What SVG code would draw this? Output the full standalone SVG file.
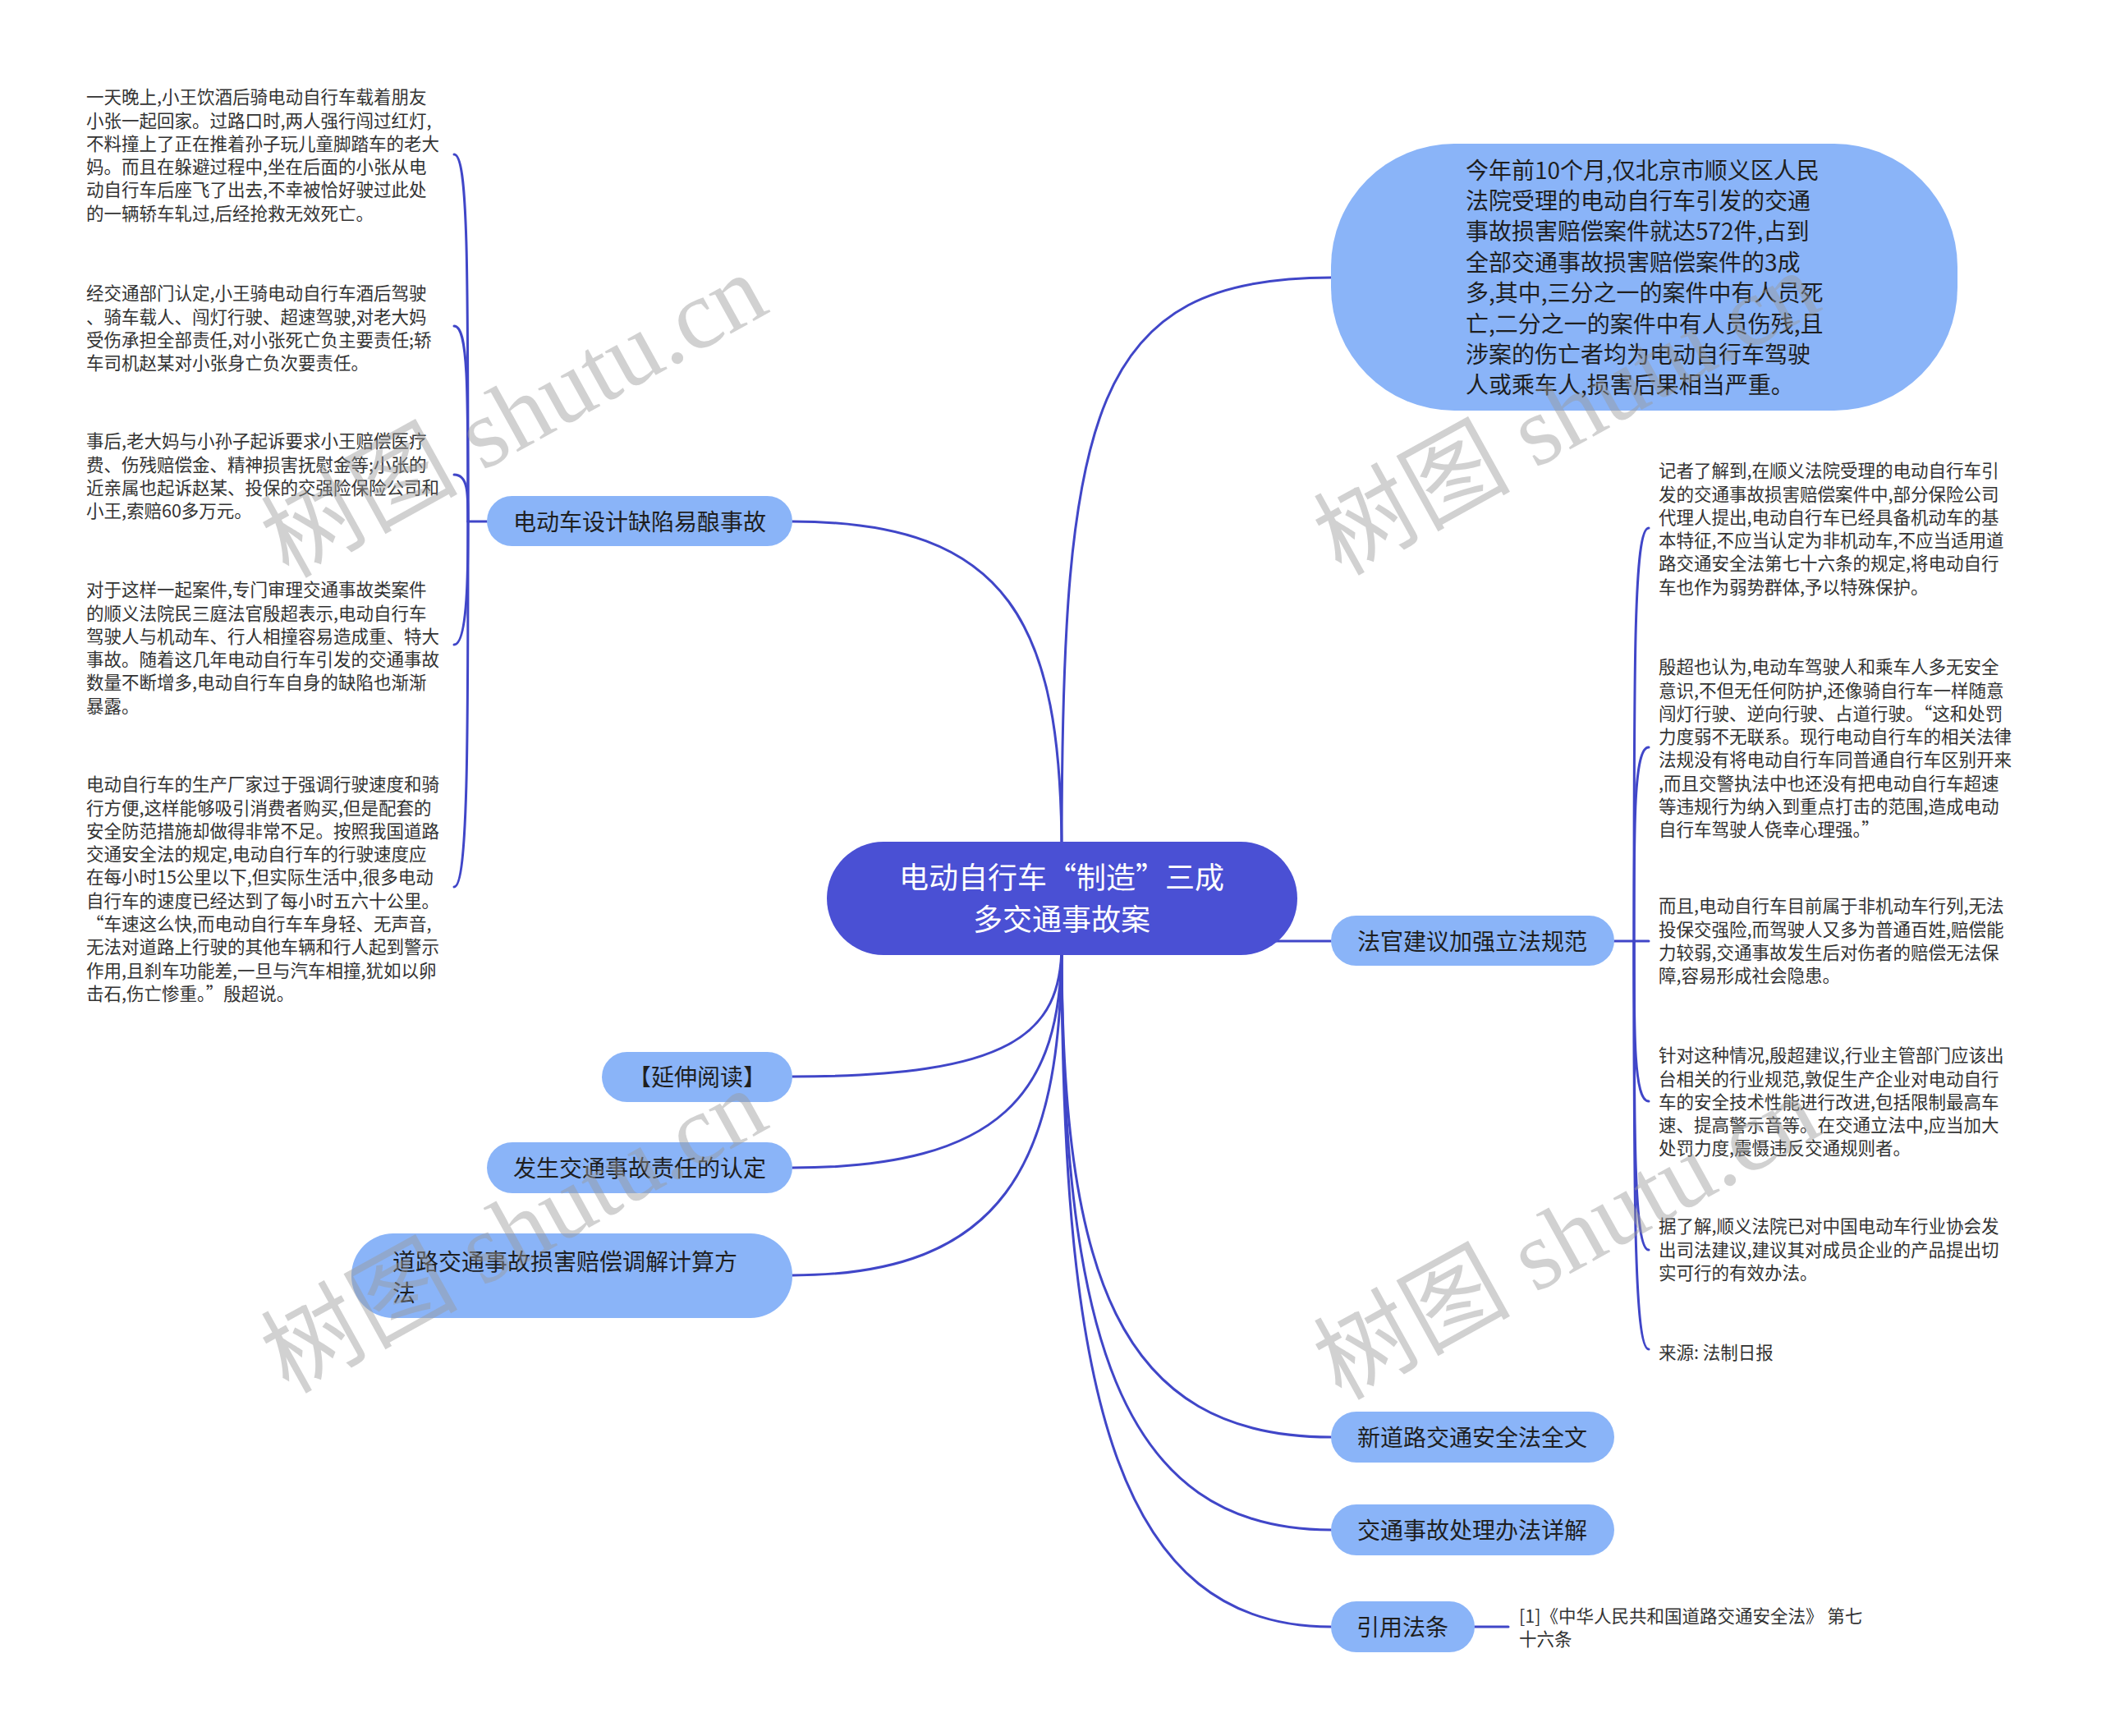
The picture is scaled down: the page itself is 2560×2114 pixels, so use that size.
<svg xmlns="http://www.w3.org/2000/svg" width="2560" height="2114" viewBox="0 0 2560 2114">
<style>
.conn{fill:none;stroke:#4046C8;stroke-width:3;stroke-linecap:round}
.n1{fill:#8AB4F8}
.root{fill:#4A50D4}
.t1{font-family:"Noto Sans CJK SC","Liberation Sans",sans-serif;font-size:28px;fill:#1f1f1f}
.tr{font-family:"Noto Sans CJK SC","Liberation Sans",sans-serif;font-size:36px;fill:#ffffff}
.leaf{font-family:"Noto Sans CJK SC","Liberation Sans",sans-serif;font-size:21.5px;fill:#333333}
.wm{font-family:"Liberation Serif","Noto Sans CJK SC",serif;font-size:120px;fill:#9a9a9a;opacity:0.45}
</style>
<rect width="2560" height="2114" fill="#ffffff"/>
<g id="connectors">
<path class="conn" d="M1293 1040 C1293 500,1330 338,1621 338"/>
<path class="conn" d="M1293 1040 C1293 760,1230 635,965 635"/>
<path class="conn" d="M1293 1094 C1293 1146,1400 1146,1621 1146"/>
<path class="conn" d="M1293 1150 C1293 1260,1230 1311,965 1311"/>
<path class="conn" d="M1293 1150 C1293 1330,1220 1422,965 1422"/>
<path class="conn" d="M1293 1150 C1293 1420,1220 1553,965 1553"/>
<path class="conn" d="M1293 1150 C1293 1550,1360 1750,1621 1750"/>
<path class="conn" d="M1293 1150 C1293 1620,1360 1863,1621 1863"/>
<path class="conn" d="M1293 1150 C1293 1700,1360 1981,1621 1981"/>
<path class="conn" d="M593 635 H570"/>
<path class="conn" d="M570 635 C570 322,570 188,553 188"/>
<path class="conn" d="M570 635 C570 470,570 397,553 397"/>
<path class="conn" d="M570 635 C570 600,570 578,553 578"/>
<path class="conn" d="M570 635 C570 690,570 785,553 785"/>
<path class="conn" d="M570 635 C570 900,570 1080,553 1080"/>
<path class="conn" d="M1966 1146 H2008"/>
<path class="conn" d="M1990 1146 C1990 800,1990 643,2008 643"/>
<path class="conn" d="M1990 1146 C1990 1000,1990 910,2008 910"/>
<path class="conn" d="M1990 1146 C1990 1260,1990 1341,2008 1341"/>
<path class="conn" d="M1990 1146 C1990 1380,1990 1522,2008 1522"/>
<path class="conn" d="M1990 1146 C1990 1450,1990 1643,2008 1643"/>
<path class="conn" d="M1796 1981 H1837"/>
</g>
<g id="node-root">
<rect class="root" x="1007" y="1025" width="573" height="138" rx="69"/>
<text class="tr" x="1293" y="1082" text-anchor="middle">电动自行车“制造”三成</text>
<text class="tr" x="1293" y="1133" text-anchor="middle">多交通事故案</text>
</g>
<g id="node-summary">
<rect class="n1" x="1621" y="175" width="763" height="325" rx="150"/>
<text class="t1" x="1785" y="217.6"><tspan x="1785">今年前10个月,仅北京市顺义区人民</tspan><tspan x="1785" dy="37.4">法院受理的电动自行车引发的交通</tspan><tspan x="1785" dy="37.4">事故损害赔偿案件就达572件,占到</tspan><tspan x="1785" dy="37.4">全部交通事故损害赔偿案件的3成</tspan><tspan x="1785" dy="37.4">多,其中,三分之一的案件中有人员死</tspan><tspan x="1785" dy="37.4">亡,二分之一的案件中有人员伤残,且</tspan><tspan x="1785" dy="37.4">涉案的伤亡者均为电动自行车驾驶</tspan><tspan x="1785" dy="37.4">人或乘车人,损害后果相当严重。</tspan></text>
</g>
<g id="node-design">
<rect class="n1" x="593" y="604" width="372" height="61" rx="30.5"/>
<text class="t1" x="779" y="645.6" text-anchor="middle">电动车设计缺陷易酿事故</text>
</g>
<g id="node-judge">
<rect class="n1" x="1621" y="1115" width="345" height="61" rx="30.5"/>
<text class="t1" x="1793" y="1156.6" text-anchor="middle">法官建议加强立法规范</text>
</g>
<g id="node-read">
<rect class="n1" x="733" y="1281" width="232" height="61" rx="30.5"/>
<text class="t1" x="849" y="1321.6" text-anchor="middle">【延伸阅读】</text>
</g>
<g id="node-resp">
<rect class="n1" x="593" y="1391" width="372" height="62" rx="31"/>
<text class="t1" x="779" y="1432.6" text-anchor="middle">发生交通事故责任的认定</text>
</g>
<g id="node-calc">
<rect class="n1" x="428" y="1502" width="537" height="103" rx="51"/>
<text class="t1" x="478" y="1546.6"><tspan x="478">道路交通事故损害赔偿调解计算方</tspan><tspan x="478" dy="38">法</tspan></text>
</g>
<g id="node-law">
<rect class="n1" x="1621" y="1719" width="345" height="62" rx="31"/>
<text class="t1" x="1793" y="1760.6" text-anchor="middle">新道路交通安全法全文</text>
</g>
<g id="node-handle">
<rect class="n1" x="1621" y="1832" width="345" height="62" rx="31"/>
<text class="t1" x="1793" y="1873.6" text-anchor="middle">交通事故处理办法详解</text>
</g>
<g id="node-cite">
<rect class="n1" x="1621" y="1950" width="175" height="62" rx="31"/>
<text class="t1" x="1708" y="1991.6" text-anchor="middle">引用法条</text>
</g>
<g id="leaf-cite">
<text class="leaf" x="1850" y="1976"><tspan x="1850">[1]《中华人民共和国道路交通安全法》 第七</tspan><tspan x="1850" dy="28">十六条</tspan></text>
</g>
<g id="leaf-l1">
<text class="leaf" x="105" y="126.2"><tspan x="105">一天晚上,小王饮酒后骑电动自行车载着朋友</tspan><tspan x="105" dy="28.3">小张一起回家。过路口时,两人强行闯过红灯,</tspan><tspan x="105" dy="28.3">不料撞上了正在推着孙子玩儿童脚踏车的老大</tspan><tspan x="105" dy="28.3">妈。而且在躲避过程中,坐在后面的小张从电</tspan><tspan x="105" dy="28.3">动自行车后座飞了出去,不幸被恰好驶过此处</tspan><tspan x="105" dy="28.3">的一辆轿车轧过,后经抢救无效死亡。</tspan></text>
</g>
<g id="leaf-l2">
<text class="leaf" x="105" y="365.2"><tspan x="105">经交通部门认定,小王骑电动自行车酒后驾驶</tspan><tspan x="105" dy="28.3">、骑车载人、闯灯行驶、超速驾驶,对老大妈</tspan><tspan x="105" dy="28.3">受伤承担全部责任,对小张死亡负主要责任;轿</tspan><tspan x="105" dy="28.3">车司机赵某对小张身亡负次要责任。</tspan></text>
</g>
<g id="leaf-l3">
<text class="leaf" x="105" y="545.2"><tspan x="105">事后,老大妈与小孙子起诉要求小王赔偿医疗</tspan><tspan x="105" dy="28.3">费、伤残赔偿金、精神损害抚慰金等;小张的</tspan><tspan x="105" dy="28.3">近亲属也起诉赵某、投保的交强险保险公司和</tspan><tspan x="105" dy="28.3">小王,索赔60多万元。</tspan></text>
</g>
<g id="leaf-l4">
<text class="leaf" x="105" y="726.2"><tspan x="105">对于这样一起案件,专门审理交通事故类案件</tspan><tspan x="105" dy="28.3">的顺义法院民三庭法官殷超表示,电动自行车</tspan><tspan x="105" dy="28.3">驾驶人与机动车、行人相撞容易造成重、特大</tspan><tspan x="105" dy="28.3">事故。随着这几年电动自行车引发的交通事故</tspan><tspan x="105" dy="28.3">数量不断增多,电动自行车自身的缺陷也渐渐</tspan><tspan x="105" dy="28.3">暴露。</tspan></text>
</g>
<g id="leaf-l5">
<text class="leaf" x="105" y="963.2"><tspan x="105">电动自行车的生产厂家过于强调行驶速度和骑</tspan><tspan x="105" dy="28.3">行方便,这样能够吸引消费者购买,但是配套的</tspan><tspan x="105" dy="28.3">安全防范措施却做得非常不足。按照我国道路</tspan><tspan x="105" dy="28.3">交通安全法的规定,电动自行车的行驶速度应</tspan><tspan x="105" dy="28.3">在每小时15公里以下,但实际生活中,很多电动</tspan><tspan x="105" dy="28.3">自行车的速度已经达到了每小时五六十公里。</tspan><tspan x="105" dy="28.3">“车速这么快,而电动自行车车身轻、无声音,</tspan><tspan x="105" dy="28.3">无法对道路上行驶的其他车辆和行人起到警示</tspan><tspan x="105" dy="28.3">作用,且刹车功能差,一旦与汽车相撞,犹如以卵</tspan><tspan x="105" dy="28.3">击石,伤亡惨重。”殷超说。</tspan></text>
</g>
<g id="leaf-r1">
<text class="leaf" x="2020" y="581.2"><tspan x="2020">记者了解到,在顺义法院受理的电动自行车引</tspan><tspan x="2020" dy="28.3">发的交通事故损害赔偿案件中,部分保险公司</tspan><tspan x="2020" dy="28.3">代理人提出,电动自行车已经具备机动车的基</tspan><tspan x="2020" dy="28.3">本特征,不应当认定为非机动车,不应当适用道</tspan><tspan x="2020" dy="28.3">路交通安全法第七十六条的规定,将电动自行</tspan><tspan x="2020" dy="28.3">车也作为弱势群体,予以特殊保护。</tspan></text>
</g>
<g id="leaf-r2">
<text class="leaf" x="2020" y="820.2"><tspan x="2020">殷超也认为,电动车驾驶人和乘车人多无安全</tspan><tspan x="2020" dy="28.3">意识,不但无任何防护,还像骑自行车一样随意</tspan><tspan x="2020" dy="28.3">闯灯行驶、逆向行驶、占道行驶。“这和处罚</tspan><tspan x="2020" dy="28.3">力度弱不无联系。现行电动自行车的相关法律</tspan><tspan x="2020" dy="28.3">法规没有将电动自行车同普通自行车区别开来</tspan><tspan x="2020" dy="28.3">,而且交警执法中也还没有把电动自行车超速</tspan><tspan x="2020" dy="28.3">等违规行为纳入到重点打击的范围,造成电动</tspan><tspan x="2020" dy="28.3">自行车驾驶人侥幸心理强。”</tspan></text>
</g>
<g id="leaf-r3">
<text class="leaf" x="2020" y="1111.2"><tspan x="2020">而且,电动自行车目前属于非机动车行列,无法</tspan><tspan x="2020" dy="28.3">投保交强险,而驾驶人又多为普通百姓,赔偿能</tspan><tspan x="2020" dy="28.3">力较弱,交通事故发生后对伤者的赔偿无法保</tspan><tspan x="2020" dy="28.3">障,容易形成社会隐患。</tspan></text>
</g>
<g id="leaf-r4">
<text class="leaf" x="2020" y="1293.2"><tspan x="2020">针对这种情况,殷超建议,行业主管部门应该出</tspan><tspan x="2020" dy="28.3">台相关的行业规范,敦促生产企业对电动自行</tspan><tspan x="2020" dy="28.3">车的安全技术性能进行改进,包括限制最高车</tspan><tspan x="2020" dy="28.3">速、提高警示音等。在交通立法中,应当加大</tspan><tspan x="2020" dy="28.3">处罚力度,震慑违反交通规则者。</tspan></text>
</g>
<g id="leaf-r5">
<text class="leaf" x="2020" y="1501.2"><tspan x="2020">据了解,顺义法院已对中国电动车行业协会发</tspan><tspan x="2020" dy="28.3">出司法建议,建议其对成员企业的产品提出切</tspan><tspan x="2020" dy="28.3">实可行的有效办法。</tspan></text>
</g>
<g id="leaf-r6">
<text class="leaf" x="2020" y="1655.2">来源: 法制日报</text>
</g>
<g id="watermarks">
<text class="wm" transform="translate(351 705) rotate(-29)">树图 shutu.cn</text>
<text class="wm" transform="translate(1633 702) rotate(-29)">树图 shutu.cn</text>
<text class="wm" transform="translate(351 1698) rotate(-29)">树图 shutu.cn</text>
<text class="wm" transform="translate(1633 1706) rotate(-29)">树图 shutu.cn</text>
</g>
</svg>
